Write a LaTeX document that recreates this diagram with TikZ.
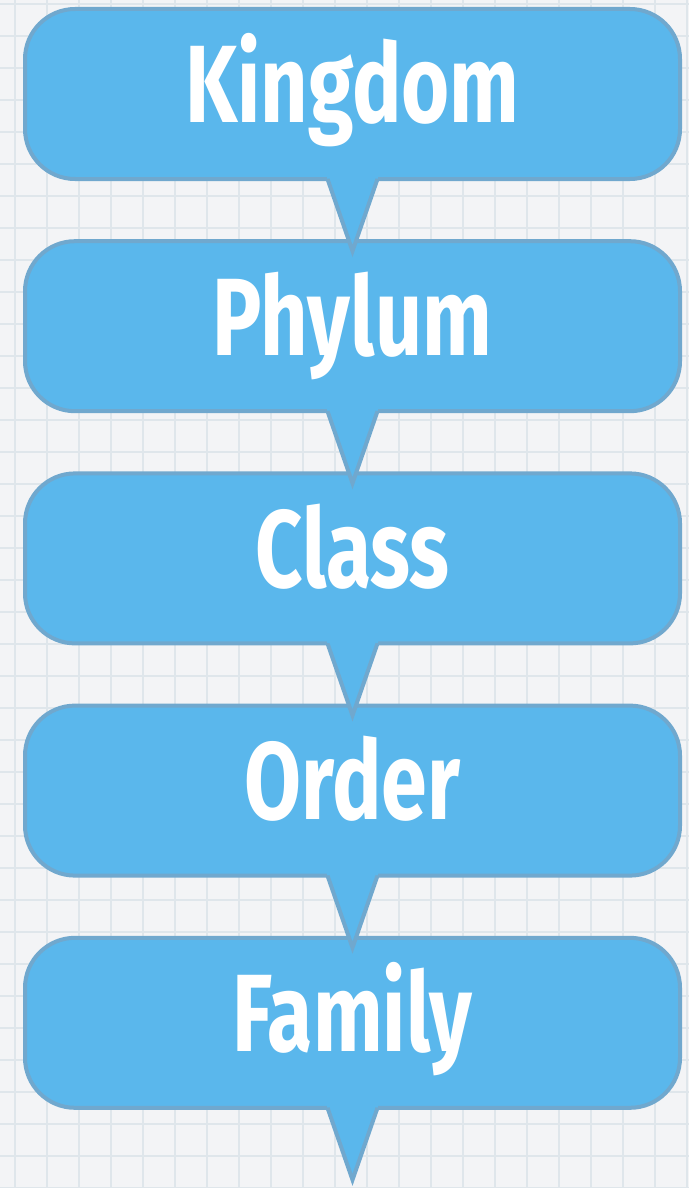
\documentclass[tikz,border=0pt]{standalone}
\usepackage{fontspec}
\newfontfamily\rankfont[FakeStretch=0.75]{Fira Sans}
\usetikzlibrary{positioning}
\definecolor{boxblue}{RGB}{90,183,236}
\definecolor{boxedge}{RGB}{112,168,206}
\definecolor{paper}{RGB}{243,244,246}
\definecolor{gridline}{RGB}{223,230,235}

\begin{document}
\begin{tikzpicture}[x=0.5pt,y=-0.5pt,
			rank/.style = {
				rectangle, rounded corners=25pt, fill=boxblue, draw=boxedge,
				line width=2pt, outer sep=0pt, inner sep=0pt,
				minimum width=327.5pt, minimum height=85pt,
				text height=40pt, text depth=11pt, text=white,
				font=\rankfont\bfseries\fontsize{55}{55}\selectfont
			},
			tipfill/.style = {fill=boxblue},
			tipedge/.style = {draw=boxedge, line width=2pt},
			node distance=31.1pt]
			% paper with grid
			\useasboundingbox (0,0) rectangle (689,1188);
			\fill[paper] (0,0) rectangle (689,1188);
			\foreach \gx in {15,47,...,689}
				\draw[gridline, line width=0.8pt] (\gx,0) -- (\gx,1188);
			\foreach \gy in {4,36,...,1188}
				\draw[gridline, line width=0.8pt] (0,\gy) -- (689,\gy);
			% ranks
			\node (kingdom) [rank] at (352.5,94) {Kingdom};
			\node (phylum) [rank, below = of kingdom] {Phylum};
			\node (class) [rank, below = of phylum] {Class};
			\node (order) [rank, below = of class] {Order};
			\node (family) [rank, below = of order] {Family};
			% pointers
			\foreach \r in {kingdom,phylum,class,order,family} {
				\fill[tipfill] (\r.south) ++(-26.7,-5) -- ++(26.7,77) -- ++(26.7,-77) -- cycle;
				\draw[tipedge] (\r.south) ++(-25,0) -- ++(25,72) -- ++(25,-72);
			}
		\end{tikzpicture}
\end{document}
